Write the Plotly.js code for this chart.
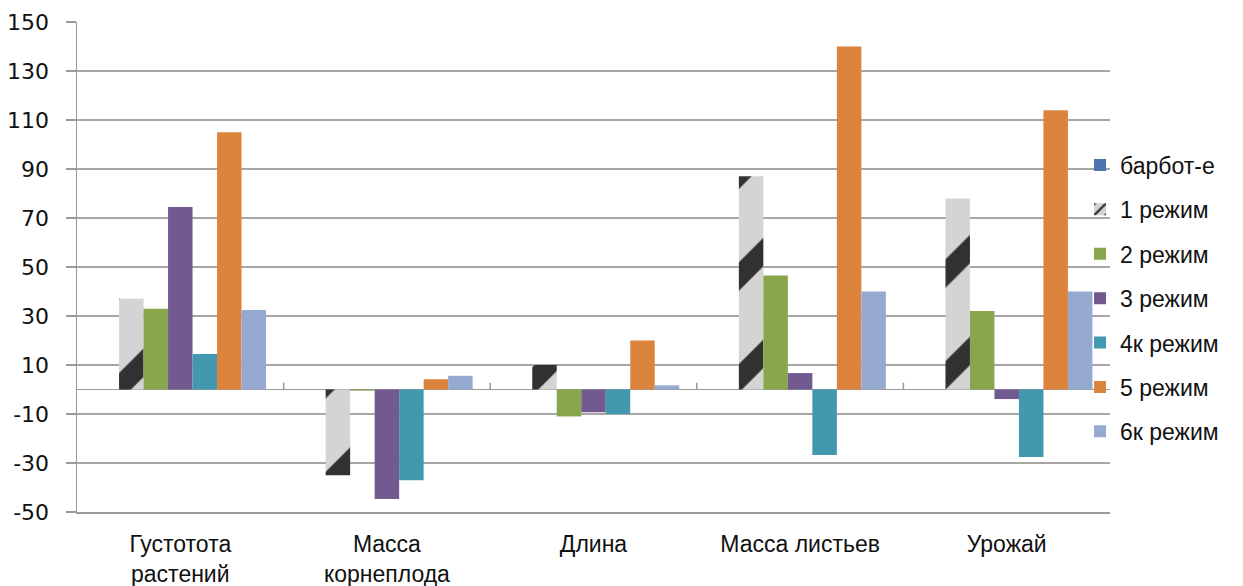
<!DOCTYPE html>
<html>
<head>
<meta charset="utf-8">
<script src="https://cdn.plot.ly/plotly-3.0.1.min.js"></script>
<style>html,body{margin:0;padding:0;background:#fff;}#chart{width:1243px;height:586px;}</style>
</head>
<body>
<div id="chart"></div>
<script>
var categories = ["Густотота<br>растений", "Масса<br>корнеплода", "Длина", "Масса листьев", "Урожай"];
var seriesNames = ["барбот-е", "1 режим", "2 режим", "3 режим", "4к режим", "5 режим", "6к режим"];
var barbot = [0, 0, 0, 0, 0];
var rezhim1 = [37, -35, 10, 87, 78];
var rezhim2 = [33, -0.5, -11, 46.5, 32];
var rezhim3 = [74.5, -44.7, -9.3, 6.7, -3.9];
var rezhim4k = [14.5, -37, -10, -26.7, -27.6];
var rezhim5 = [105, 4.2, 20, 140, 114];
var rezhim6k = [32.5, 5.6, 1.7, 40, 40];
var yTicks = [-50, -30, -10, 10, 30, 50, 70, 90, 110, 130, 150];

var seriesValues = [barbot, rezhim1, rezhim2, rezhim3, rezhim4k, rezhim5, rezhim6k];
var colors = ["#4a76ad", "#cfcfcf", "#8aa64d", "#72598f", "#4198af", "#dc843c", "#95a9d1"];

var traces = seriesValues.map(function (vals, i) {
  var marker = { color: colors[i], line: { width: 0 } };
  if (i === 1) {
    marker = {
      color: "#d4d4d4",
      pattern: { shape: "/", bgcolor: "#d4d4d4", fgcolor: "#141414", fgopacity: 0.85, size: 72, solidity: 0.28, fillmode: "overlay" },
      line: { width: 0 }
    };
  }
  return {
    type: "bar",
    name: seriesNames[i],
    x: categories,
    y: vals,
    marker: marker,
    legendgroup: "g" + i,
    hoverinfo: "name+y"
  };
});

var layout = {
  width: 1243,
  height: 586,
  margin: { l: 77, r: 133, t: 22, b: 74 },
  paper_bgcolor: "#ffffff",
  plot_bgcolor: "#ffffff",
  barmode: "group",
  bargap: 0.17,
  bargroupgap: 0,
  font: { family: "DejaVu Sans, sans-serif", color: "#111" },
  xaxis: {
    type: "category",
    range: [-0.5, 4.5],
    showgrid: false,
    showline: true,
    linecolor: "#999",
    linewidth: 1.5,
    ticks: "",
    ticklabelstandoff: 11,
    tickfont: { family: "Liberation Sans, Arial, sans-serif", size: 23, color: "#111" },
    fixedrange: true
  },
  yaxis: {
    range: [-50, 150],
    tickvals: yTicks,
    ticktext: yTicks.map(String),
    showgrid: true,
    gridcolor: "#a6a6a6",
    gridwidth: 1.5,
    zeroline: true,
    zerolinecolor: "#9a9a9a",
    zerolinewidth: 1.5,
    showline: true,
    linecolor: "#999",
    linewidth: 1.5,
    ticks: "outside",
    ticklen: 10,
    tickcolor: "#999",
    tickwidth: 1.5,
    ticklabelstandoff: 12,
    tickfont: { family: "DejaVu Sans, sans-serif", size: 22, color: "#111" },
    fixedrange: true
  },
  legend: {
    x: 0.971,
    xanchor: "left",
    y: 0.4357,
    yanchor: "middle",
    font: { family: "Liberation Sans, Arial, sans-serif", size: 23, color: "#111" },
    tracegroupgap: 11.5,
    itemwidth: 30,
    bgcolor: "rgba(0,0,0,0)"
  },
  shapes: [0.5, 1.5, 2.5, 3.5].map(function (b) {
    return { type: "line", xref: "x", yref: "y", x0: b, x1: b, y0: 0, y1: 2.8, line: { color: "#999", width: 1.5 } };
  }),
  showlegend: true
};

Plotly.newPlot("chart", traces, layout, { staticPlot: true, displayModeBar: false });
</script>
</body>
</html>
